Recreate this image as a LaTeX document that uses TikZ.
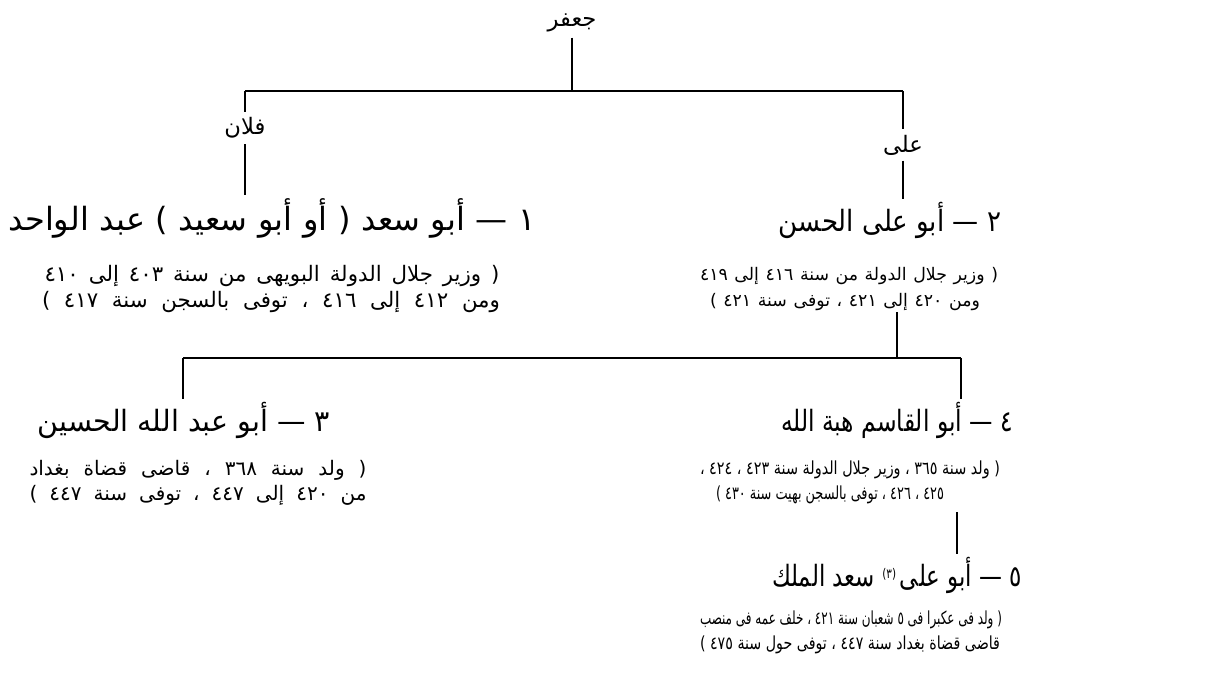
\documentclass[tikz,border=0pt]{standalone}
\usepackage{fontspec}
\usepackage{graphicx}
\TeXXeTstate=1
\newfontfamily\ar[Script=Arabic]{DejaVu Sans}
\newsavebox\fitbox
\newlength\fitw
% #1 target width in px (1px = 0.75pt), #2 text already wrapped in \beginR ... \endR
\newcommand\fitline[2]{%
  \sbox\fitbox{#2}%
  \setlength\fitw{#1pt}\setlength\fitw{0.75\fitw}%
  \ifdim\wd\fitbox<\fitw
    \makebox[\fitw][s]{#2}%
  \else
    \resizebox{\fitw}{\height}{\usebox\fitbox}%
  \fi}
\tikzset{
  lbl/.style={font=\ar\fontsize{17}{19}\selectfont, inner sep=4pt},
  ttl/.style={font=\ar\fontsize{22}{24}\selectfont, inner sep=2pt},
  ttlA/.style={font=\ar\fontsize{24}{26}\selectfont, inner sep=2pt},
  noteA/.style={font=\ar\fontsize{16}{18}\selectfont, inner sep=1pt},
  noteB/.style={font=\ar\fontsize{13}{15}\selectfont, inner sep=1pt},
  noteD/.style={font=\ar\fontsize{15}{17}\selectfont, inner sep=1pt},
  noteC/.style={font=\ar\fontsize{13.5}{15}\selectfont, inner sep=1pt},
  ln/.style={line width=1.1pt, black}
}
\begin{document}
\begin{tikzpicture}[x=0.75pt,y=-0.75pt]
\useasboundingbox (0,0) rectangle (1215,674);
% labels
\node[lbl] (jafar) at (572,23) {\beginR جعفر\endR};
\node[lbl] (fulan) at (245,128) {\beginR فلان\endR};
\node[lbl] (ali) at (903,145) {\beginR على\endR};
% titles
\node[ttlA] (t1) at (272,218) {\fitline{527}{\beginR ١ — أبو سعد ( أو أبو سعيد ) عبد الواحد\endR}};
\node[ttl] (t2) at (890,220) {\fitline{222}{\beginR ٢ — أبو على الحسن\endR}};
\node[ttl] (t3) at (184,420) {\fitline{292}{\beginR ٣ — أبو عبد الله الحسين\endR}};
\node[ttl] (t4) at (897,420) {\fitline{232}{\beginR ٤ — أبو القاسم هبة الله\endR}};
\node[ttl] (t5) at (897,575) {\fitline{250}{\beginR ٥ — أبو على\,{\fontsize{10}{12}\selectfont\raisebox{1.1ex}{(٣)}} سعد الملك\endR}};
% notes
\node[noteA] (n1a) at (272,276) {\fitline{455}{\beginR ( وزير جلال الدولة البويهى من سنة ٤٠٣ إلى ٤١٠\endR}};
\node[noteA] (n1b) at (271,302) {\fitline{458}{\beginR ومن ٤١٢ إلى ٤١٦ ، توفى بالسجن سنة ٤١٧ )\endR}};
\node[noteB] (n2a) at (849,276) {\fitline{298}{\beginR ( وزير جلال الدولة من سنة ٤١٦ إلى ٤١٩\endR}};
\node[noteB] (n2b) at (845,302) {\fitline{270}{\beginR ومن ٤٢٠ إلى ٤٢١ ، توفى سنة ٤٢١ )\endR}};
\node[noteD] (n3a) at (198,470) {\fitline{337}{\beginR ( ولد سنة ٣٦٨ ، قاضى قضاة بغداد\endR}};
\node[noteD] (n3b) at (198,495) {\fitline{337}{\beginR من ٤٢٠ إلى ٤٤٧ ، توفى سنة ٤٤٧ )\endR}};
\node[noteC] (n4a) at (850,470) {\fitline{300}{\beginR ( ولد سنة ٣٦٥ ، وزير جلال الدولة سنة ٤٢٣ ، ٤٢٤ ،\endR}};
\node[noteC] (n4b) at (830,495) {\fitline{228}{\beginR ٤٢٥ ، ٤٢٦ ، توفى بالسجن بهيت سنة ٤٣٠ )\endR}};
\node[noteC] (n5a) at (851,620) {\fitline{302}{\beginR ( ولد فى عكبرا فى ٥ شعبان سنة ٤٢١ ، خلف عمه فى منصب\endR}};
\node[noteC] (n5b) at (850,645) {\fitline{300}{\beginR قاضى قضاة بغداد سنة ٤٤٧ ، توفى حول سنة ٤٧٥ )\endR}};
% coordinates of bars
\coordinate (h1m) at (572,91);
\coordinate (h1l) at (245,91);
\coordinate (h1r) at (903,91);
\coordinate (h2m) at (897,358);
\coordinate (h2l) at (183,358);
\coordinate (h2r) at (961,358);
\coordinate (v4) at (957,512);
% connectors
\draw[ln] (jafar) -- (h1m);
\draw[ln] (h1l) -- (h1r);
\draw[ln] (h1l) -- (fulan);
\draw[ln] (h1r) -- (ali);
\draw[ln] (fulan.south) -- (fulan.south |- t1.north);
\draw[ln] (ali.south) -- (ali.south |- t2.north);
\draw[ln] (h2m |- n2b.south) -- (h2m);
\draw[ln] (h2l) -- (h2r);
\draw[ln] (h2l) -- (h2l |- t3.north);
\draw[ln] (h2r) -- (h2r |- t4.north);
\draw[ln] (v4) -- (v4 |- t5.north);
\end{tikzpicture}
\end{document}
